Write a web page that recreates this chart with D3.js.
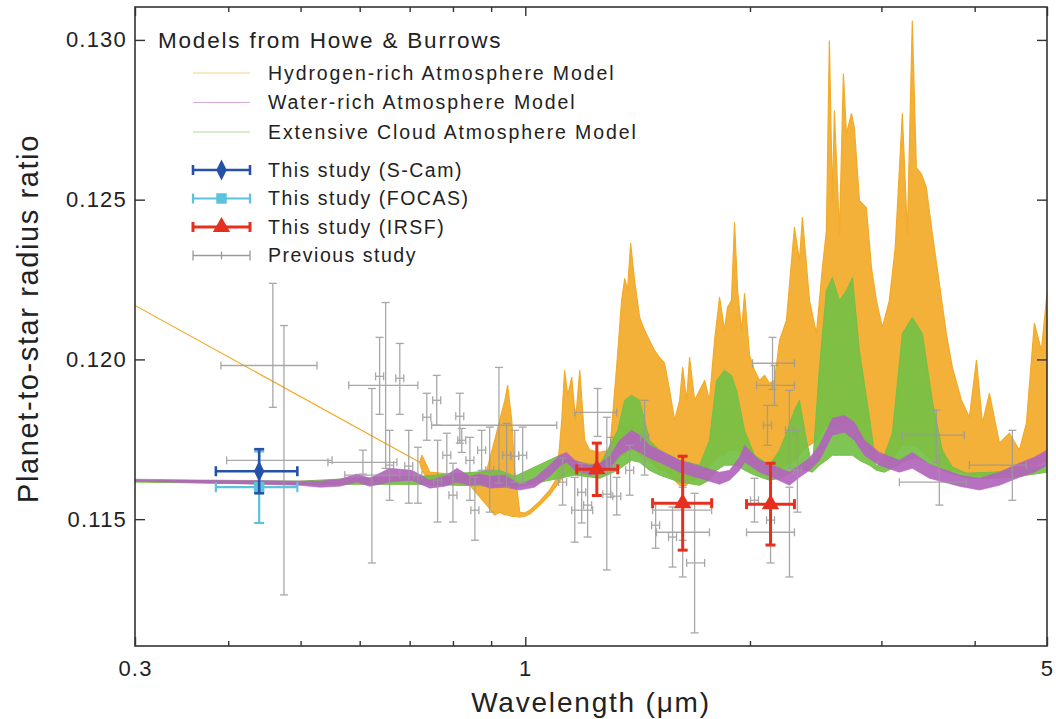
<!DOCTYPE html>
<html>
<head>
<meta charset="utf-8">
<script src="https://cdn.jsdelivr.net/npm/d3@7"></script>
<style>
  body { margin: 0; background: #fff; }
  text { font-family: "Liberation Sans", Arial, Helvetica, sans-serif; fill: #222; }
</style>
</head>
<body>
<div id="chart"></div>
<script>
// model spectra: [wavelength (um), lower edge, upper edge]
const hydrogenModel = [
  [0.300, 0.12169, 0.12169], [0.722, 0.11678, 0.11678], [0.727, 0.11653, 0.11700], [0.745, 0.11616, 0.11647],
  [0.792, 0.11609, 0.11641], [0.843, 0.11606, 0.11634], [0.888, 0.11544, 0.11653], [0.910, 0.11513, 0.11747],
  [0.924, 0.11522, 0.11809], [0.939, 0.11513, 0.11872], [0.947, 0.11513, 0.11919], [0.959, 0.11509, 0.11809],
  [0.968, 0.11509, 0.11653], [0.983, 0.11506, 0.11522], [0.998, 0.11509, 0.11519], [1.014, 0.11516, 0.11528],
  [1.046, 0.11544, 0.11556], [1.078, 0.11575, 0.11591], [1.102, 0.11606, 0.11628], [1.119, 0.11628, 0.11809],
  [1.129, 0.11638, 0.11966], [1.140, 0.11647, 0.11888], [1.154, 0.11647, 0.11944], [1.168, 0.11638, 0.11809],
  [1.183, 0.11647, 0.11966], [1.201, 0.11638, 0.11747], [1.220, 0.11653, 0.11716], [1.258, 0.11653, 0.11709],
  [1.298, 0.11669, 0.11716], [1.330, 0.11684, 0.12019], [1.346, 0.11700, 0.12184], [1.359, 0.11700, 0.12253],
  [1.371, 0.11716, 0.12216], [1.384, 0.11716, 0.12363], [1.401, 0.11716, 0.12247], [1.423, 0.11700, 0.12131],
  [1.445, 0.11684, 0.12091], [1.467, 0.11684, 0.12059], [1.490, 0.11669, 0.12028], [1.513, 0.11653, 0.12006],
  [1.537, 0.11653, 0.11988], [1.561, 0.11638, 0.11903], [1.585, 0.11622, 0.11809], [1.610, 0.11606, 0.11872],
  [1.625, 0.11606, 0.11975], [1.645, 0.11606, 0.11872], [1.660, 0.11622, 0.12006], [1.686, 0.11622, 0.11872],
  [1.712, 0.11638, 0.11903], [1.739, 0.11653, 0.11934], [1.765, 0.11669, 0.11872], [1.793, 0.11684, 0.12059],
  [1.821, 0.11700, 0.12194], [1.849, 0.11700, 0.12091], [1.866, 0.11716, 0.12163], [1.889, 0.11716, 0.12184],
  [1.907, 0.11716, 0.12428], [1.925, 0.11716, 0.12216], [1.949, 0.11700, 0.12091], [1.967, 0.11700, 0.12206],
  [1.997, 0.11684, 0.12013], [2.028, 0.11678, 0.11966], [2.060, 0.11669, 0.11934], [2.092, 0.11663, 0.11950],
  [2.124, 0.11653, 0.11925], [2.157, 0.11653, 0.11934], [2.191, 0.11659, 0.12059], [2.238, 0.11669, 0.12122],
  [2.294, 0.11684, 0.12413], [2.330, 0.11700, 0.12309], [2.351, 0.11716, 0.12444], [2.403, 0.11731, 0.12184],
  [2.455, 0.11747, 0.12081], [2.501, 0.11778, 0.12288], [2.532, 0.11794, 0.12403], [2.555, 0.11794, 0.12997],
  [2.579, 0.11794, 0.12497], [2.595, 0.11794, 0.12778], [2.636, 0.11794, 0.12394], [2.668, 0.11794, 0.12894],
  [2.693, 0.11794, 0.12706], [2.735, 0.11794, 0.12769], [2.760, 0.11778, 0.12725], [2.803, 0.11763, 0.12497],
  [2.864, 0.11731, 0.12475], [2.909, 0.11716, 0.12288], [2.954, 0.11684, 0.12184], [3.009, 0.11678, 0.12100],
  [3.074, 0.11684, 0.12184], [3.131, 0.11700, 0.12350], [3.200, 0.11731, 0.12769], [3.250, 0.11731, 0.12394],
  [3.300, 0.11731, 0.13059], [3.341, 0.11731, 0.12600], [3.393, 0.11716, 0.12581], [3.446, 0.11700, 0.12538],
  [3.510, 0.11684, 0.12394], [3.587, 0.11669, 0.12238], [3.665, 0.11653, 0.12081], [3.734, 0.11653, 0.11975],
  [3.840, 0.11647, 0.11872], [3.935, 0.11638, 0.11819], [4.022, 0.11638, 0.11997], [4.097, 0.11634, 0.11800],
  [4.186, 0.11634, 0.11894], [4.317, 0.11638, 0.11738], [4.452, 0.11647, 0.11769], [4.591, 0.11653, 0.11716],
  [4.692, 0.11659, 0.11800], [4.809, 0.11669, 0.12113], [4.914, 0.11675, 0.12028], [5.000, 0.11684, 0.12206]
];

const cloudModel = [
  [0.300, 0.11616, 0.11622], [0.499, 0.11609, 0.11619], [0.595, 0.11609, 0.11628], [0.722, 0.11609, 0.11634],
  [0.924, 0.11603, 0.11653], [0.968, 0.11600, 0.11634], [1.112, 0.11628, 0.11700], [1.165, 0.11638, 0.11678],
  [1.258, 0.11628, 0.11669], [1.330, 0.11653, 0.11778], [1.359, 0.11669, 0.11872], [1.388, 0.11684, 0.11888],
  [1.423, 0.11678, 0.11872], [1.467, 0.11653, 0.11747], [1.513, 0.11638, 0.11716], [1.610, 0.11616, 0.11684],
  [1.712, 0.11606, 0.11669], [1.765, 0.11622, 0.11747], [1.804, 0.11653, 0.11934], [1.849, 0.11669, 0.11966],
  [1.889, 0.11669, 0.11950], [1.919, 0.11669, 0.11903], [1.967, 0.11653, 0.11778], [2.028, 0.11638, 0.11700],
  [2.124, 0.11622, 0.11669], [2.191, 0.11628, 0.11716], [2.238, 0.11638, 0.11769], [2.294, 0.11653, 0.11841],
  [2.330, 0.11659, 0.11872], [2.381, 0.11653, 0.11747], [2.425, 0.11647, 0.11663], [2.478, 0.11669, 0.11975],
  [2.532, 0.11684, 0.12216], [2.579, 0.11700, 0.12256], [2.636, 0.11700, 0.12184], [2.693, 0.11700, 0.12216],
  [2.744, 0.11700, 0.12256], [2.803, 0.11684, 0.12028], [2.891, 0.11669, 0.11819], [2.954, 0.11653, 0.11663],
  [3.028, 0.11647, 0.11700], [3.103, 0.11659, 0.11769], [3.200, 0.11678, 0.12081], [3.300, 0.11691, 0.12131],
  [3.404, 0.11684, 0.12081], [3.510, 0.11669, 0.11872], [3.620, 0.11653, 0.11716], [3.734, 0.11641, 0.11663],
  [3.899, 0.11628, 0.11644], [4.225, 0.11628, 0.11647], [4.591, 0.11634, 0.11653], [5.000, 0.11647, 0.11669]
];

const waterModel = [
  [0.300, 0.11619, 0.11625], [0.499, 0.11606, 0.11619], [0.531, 0.11600, 0.11619], [0.564, 0.11603, 0.11625],
  [0.595, 0.11616, 0.11641], [0.619, 0.11603, 0.11628], [0.658, 0.11616, 0.11659], [0.705, 0.11622, 0.11653],
  [0.745, 0.11597, 0.11622], [0.780, 0.11603, 0.11634], [0.810, 0.11616, 0.11659], [0.843, 0.11606, 0.11634],
  [0.869, 0.11609, 0.11641], [0.896, 0.11597, 0.11634], [0.939, 0.11600, 0.11638], [0.983, 0.11591, 0.11609],
  [1.029, 0.11600, 0.11628], [1.078, 0.11634, 0.11669], [1.112, 0.11666, 0.11700], [1.136, 0.11678, 0.11709],
  [1.165, 0.11653, 0.11684], [1.220, 0.11638, 0.11669], [1.258, 0.11644, 0.11675], [1.298, 0.11659, 0.11697],
  [1.338, 0.11700, 0.11747], [1.388, 0.11722, 0.11778], [1.423, 0.11709, 0.11763], [1.467, 0.11691, 0.11731],
  [1.513, 0.11678, 0.11716], [1.610, 0.11647, 0.11684], [1.712, 0.11628, 0.11666], [1.821, 0.11609, 0.11647],
  [1.878, 0.11622, 0.11653], [1.937, 0.11653, 0.11694], [1.967, 0.11678, 0.11731], [1.997, 0.11669, 0.11716],
  [2.060, 0.11647, 0.11684], [2.157, 0.11628, 0.11666], [2.259, 0.11606, 0.11647], [2.330, 0.11631, 0.11669],
  [2.403, 0.11653, 0.11691], [2.478, 0.11684, 0.11731], [2.579, 0.11763, 0.11816], [2.677, 0.11772, 0.11825],
  [2.760, 0.11747, 0.11803], [2.847, 0.11700, 0.11747], [2.981, 0.11669, 0.11709], [3.171, 0.11647, 0.11684],
  [3.300, 0.11659, 0.11709], [3.478, 0.11628, 0.11672], [3.815, 0.11603, 0.11638], [4.059, 0.11591, 0.11628],
  [4.317, 0.11606, 0.11647], [4.591, 0.11631, 0.11675], [4.809, 0.11647, 0.11694], [5.000, 0.11669, 0.11716]
];

// observations: [wavelength, ratio, ratio error, band start, band end]
const sCamPoints = [[0.440, 0.11650, 0.00069, 0.385, 0.495]];
const focasPoints = [[0.440, 0.11600, 0.00112, 0.385, 0.495]];
const irsfPoints = [
  [1.247, 0.11656, 0.00082, 1.172, 1.330],
  [1.625, 0.11550, 0.00147, 1.481, 1.777],
  [2.131, 0.11547, 0.00128, 1.979, 2.294]
];

// previous study: [wavelength, ratio, ratio low, ratio high, band start, band end]
const previousPoints = [
  [0.459, 0.11981, 0.11850, 0.12238, 0.391, 0.526], [0.475, 0.11684, 0.11263, 0.12106, 0.398, 0.551],
  [0.623, 0.11638, 0.11363, 0.11909, 0.573, 0.679], [0.606, 0.11678, 0.11641, 0.11716, 0.544, 0.673],
  [0.638, 0.11947, 0.11828, 0.12069, null, null], [0.650, 0.11919, 0.11659, 0.12178, 0.580, 0.718],
  [0.679, 0.11941, 0.11828, 0.12050, null, null], [0.658, 0.11669, 0.11559, 0.11778, null, null],
  [0.698, 0.11666, 0.11550, 0.11778, null, null], [0.718, 0.11638, 0.11550, 0.11725, null, null],
  [0.738, 0.11819, 0.11747, 0.11894, null, null], [0.761, 0.11872, 0.11794, 0.11950, null, null],
  [0.763, 0.11622, 0.11491, 0.11747, null, null], [0.785, 0.11700, 0.11638, 0.11769, null, null],
  [0.800, 0.11575, 0.11491, 0.11675, null, null], [0.817, 0.11822, 0.11738, 0.11894, null, null],
  [0.822, 0.11747, 0.11709, 0.11784, null, null], [0.843, 0.11684, 0.11559, 0.11756, null, null],
  [0.856, 0.11528, 0.11434, 0.11631, null, null], [0.874, 0.11716, 0.11653, 0.11778, null, null],
  [0.896, 0.11653, 0.11522, 0.11788, null, null], [0.922, 0.11794, 0.11613, 0.11975, 0.749, 1.102],
  [0.944, 0.11700, 0.11600, 0.11800, null, null], [0.968, 0.11697, 0.11616, 0.11778, null, null],
  [0.992, 0.11700, 0.11613, 0.11788, null, null], [1.122, 0.11616, 0.11544, 0.11691, null, null],
  [1.165, 0.11528, 0.11428, 0.11631, 1.154, 1.231], [1.190, 0.11584, 0.11488, 0.11675, null, null],
  [1.212, 0.11544, 0.11444, 0.11644, null, null], [1.250, 0.11834, 0.11759, 0.11909, 1.165, 1.326],
  [1.286, 0.11578, 0.11341, 0.11819, null, null], [1.301, 0.11663, 0.11569, 0.11756, null, null],
  [1.326, 0.11572, 0.11513, 0.11631, null, null], [1.380, 0.11653, 0.11575, 0.11731, null, null],
  [1.445, 0.11756, 0.11638, 0.11872, null, null], [1.495, 0.11481, 0.11409, 0.11550, null, null],
  [1.625, 0.11459, 0.11319, 0.11600, 1.499, 1.765], [1.575, 0.11444, 0.11350, 0.11538, null, null],
  [1.686, 0.11363, 0.11144, 0.11581, 1.645, 1.739], [1.625, 0.11528, 0.11434, 0.11622, 1.481, 1.777],
  [2.028, 0.11559, 0.11491, 0.11628, null, null], [2.131, 0.11497, 0.11363, 0.11628, null, null],
  [2.259, 0.11459, 0.11319, 0.11600, 1.979, 2.294], [2.315, 0.11653, 0.11522, 0.11778, null, null],
  [2.144, 0.11988, 0.11906, 0.12069, 2.016, 2.294], [2.157, 0.11919, 0.11856, 0.11981, 2.041, 2.294],
  [2.111, 0.11794, 0.11731, 0.11856, null, null], [2.259, 0.11778, 0.11659, 0.11903, null, null],
  [3.554, 0.11763, 0.11678, 0.11841, 3.200, 3.874], [4.493, 0.11669, 0.11559, 0.11778, 3.935, 4.692],
  [3.587, 0.11616, 0.11544, 0.11700, 3.171, 3.899]
];

const yTicks = [0.115, 0.120, 0.125, 0.130];
const xMajorTicks = [0.3, 1, 5];
const xMinorTicks = [0.4, 0.5, 0.6, 0.7, 0.8, 0.9, 2, 3, 4];
const legendTitle = "Models from Howe & Burrows";
const modelLabels = ["Hydrogen-rich Atmosphere Model", "Water-rich Atmosphere Model", "Extensive Cloud Atmosphere Model"];
const pointLabels = ["This study (S-Cam)", "This study (FOCAS)", "This study (IRSF)", "Previous study"];

const colH = "#f2aa28", colW = "#b264bc", colC = "#74c045";
const colScam = "#2552a8", colFocas = "#5fc2dc", colIrsf = "#e5301f", colPrev = "#9a9a9a";

const margin = {top: 7, right: 9, bottom: 73, left: 135},
  width = 1056 - margin.left - margin.right,
  height = 719 - margin.top - margin.bottom;

const x = d3.scaleLog().domain([0.3, 5]).range([0, width]);
const y = d3.scaleLinear().domain([0.11103, 0.13103]).range([height, 0]);

const svg = d3.select("#chart").append("svg")
  .attr("width", 1056)
  .attr("height", 719)
  .append("g")
  .attr("transform", "translate(" + margin.left + "," + margin.top + ")");

svg.append("clipPath").attr("id", "plotclip")
  .append("rect").attr("width", width).attr("height", height);

const plot = svg.append("g").attr("clip-path", "url(#plotclip)");

// model spectra as filled envelopes
const band = d3.area()
  .x(d => x(d[0]))
  .y0(d => y(d[1]))
  .y1(d => y(d[2]));

[[hydrogenModel, colH, 1.2], [cloudModel, colC, 1], [waterModel, colW, 0.6]].forEach(function (m) {
  plot.append("path")
    .datum(m[0])
    .attr("d", band)
    .attr("fill", m[1])
    .attr("fill-opacity", 0.92)
    .attr("stroke", m[1])
    .attr("stroke-width", m[2])
    .attr("stroke-linejoin", "round");
});

// previous study error bars
const prev = plot.append("g")
  .attr("stroke", colPrev)
  .attr("stroke-width", 1.3)
  .attr("opacity", 0.85);

previousPoints.forEach(function (p) {
  const cx = x(p[0]), cy = y(p[1]);
  const y0 = y(p[2]), y1 = y(p[3]);
  prev.append("line").attr("x1", cx).attr("x2", cx).attr("y1", y0).attr("y2", y1);
  prev.append("line").attr("x1", cx - 4).attr("x2", cx + 4).attr("y1", y0).attr("y2", y0);
  prev.append("line").attr("x1", cx - 4).attr("x2", cx + 4).attr("y1", y1).attr("y2", y1);
  const xa = p[4] ? x(p[4]) : cx - 4, xb = p[5] ? x(p[5]) : cx + 4;
  prev.append("line").attr("x1", xa).attr("x2", xb).attr("y1", cy).attr("y2", cy);
  prev.append("line").attr("x1", xa).attr("x2", xa).attr("y1", cy - 4).attr("y2", cy + 4);
  prev.append("line").attr("x1", xb).attr("x2", xb).attr("y1", cy - 4).attr("y2", cy + 4);
});

// this study points with error bars
function drawStudy(points, color, symbol, size, lw, cap) {
  const g = plot.append("g").attr("stroke", color).attr("stroke-width", lw);
  points.forEach(function (p) {
    const cx = x(p[0]), cy = y(p[1]);
    const y0 = y(p[1] - p[2]), y1 = y(p[1] + p[2]);
    const xa = x(p[3]), xb = x(p[4]);
    g.append("line").attr("x1", cx).attr("x2", cx).attr("y1", y0).attr("y2", y1);
    g.append("line").attr("x1", xa).attr("x2", xb).attr("y1", cy).attr("y2", cy);
    g.append("line").attr("x1", cx - cap).attr("x2", cx + cap).attr("y1", y0).attr("y2", y0);
    g.append("line").attr("x1", cx - cap).attr("x2", cx + cap).attr("y1", y1).attr("y2", y1);
    g.append("line").attr("x1", xa).attr("x2", xa).attr("y1", cy - cap).attr("y2", cy + cap);
    g.append("line").attr("x1", xb).attr("x2", xb).attr("y1", cy - cap).attr("y2", cy + cap);
    g.append("path")
      .attr("d", d3.symbol().type(symbol).size(size)())
      .attr("transform", "translate(" + cx + "," + cy + ")" + (symbol === d3.symbolDiamond ? " scale(1,1.15)" : ""))
      .attr("fill", color).attr("stroke", "none");
  });
}
drawStudy(focasPoints, colFocas, d3.symbolSquare, 110, 2.2, 5);
drawStudy(sCamPoints, colScam, d3.symbolDiamond, 95, 2.6, 5);
drawStudy(irsfPoints, colIrsf, d3.symbolTriangle, 130, 3, 5);

// frame
svg.append("rect")
  .attr("width", width).attr("height", height)
  .attr("fill", "none").attr("stroke", "#333").attr("stroke-width", 1.6);

// axes with inward ticks
function styleAxis(g) {
  g.select(".domain").remove();
  g.selectAll(".tick line").attr("stroke", "#333").attr("stroke-width", 1.4);
  g.selectAll(".tick text").attr("fill", "#222").attr("font-size", 22)
    .attr("font-family", "Liberation Sans, Arial, sans-serif")
    .style("letter-spacing", "1.2px");
}

svg.append("g")
  .attr("transform", "translate(0," + height + ")")
  .call(d3.axisBottom(x).tickValues(xMajorTicks).tickSize(-9).tickPadding(14)
    .tickFormat(d3.format("~g")))
  .call(styleAxis);
svg.append("g")
  .attr("transform", "translate(0," + height + ")")
  .call(d3.axisBottom(x).tickValues(xMinorTicks).tickSize(-5).tickFormat(""))
  .call(styleAxis);
svg.append("g")
  .call(d3.axisTop(x).tickValues(xMajorTicks).tickSize(-9).tickFormat(""))
  .call(styleAxis);
svg.append("g")
  .call(d3.axisTop(x).tickValues(xMinorTicks).tickSize(-5).tickFormat(""))
  .call(styleAxis);
svg.append("g")
  .call(d3.axisLeft(y).tickValues(yTicks).tickSize(-10).tickPadding(8)
    .tickFormat(d3.format(".3f")))
  .call(styleAxis);
svg.append("g")
  .attr("transform", "translate(" + width + ",0)")
  .call(d3.axisRight(y).tickValues(yTicks).tickSize(-10).tickFormat(""))
  .call(styleAxis);

// axis titles
svg.append("text")
  .attr("x", width / 2)
  .attr("y", height + 66)
  .attr("text-anchor", "middle")
  .attr("font-size", 28)
  .style("letter-spacing", "1.8px")
  .text("Wavelength (\u03bcm)");

svg.append("text")
  .attr("transform", "rotate(-90)")
  .attr("x", -(height / 2 - 8))
  .attr("y", -97)
  .attr("text-anchor", "middle")
  .attr("font-size", 29)
  .style("letter-spacing", "1.6px")
  .text("Planet-to-star radius ratio");

// legend
const legend = svg.append("g").attr("transform", "translate(" + (158 - margin.left) + "," + (40 - margin.top) + ")");
legend.append("text")
  .attr("x", 0).attr("y", 0).attr("dy", "0.35em")
  .attr("font-size", 22.5)
  .style("letter-spacing", "1.8px")
  .text(legendTitle);

const sampleX0 = 35, sampleX1 = 92, labelX = 110;
[colH, colW, colC].forEach(function (c, i) {
  const ly = 33 + i * 29.5;
  legend.append("line")
    .attr("x1", sampleX0).attr("x2", sampleX1).attr("y1", ly).attr("y2", ly)
    .attr("stroke", c).attr("stroke-width", 1).attr("opacity", 0.55);
  legend.append("text")
    .attr("x", labelX).attr("y", ly).attr("dy", "0.35em")
    .attr("font-size", 19.5)
    .style("letter-spacing", "1.9px")
    .text(modelLabels[i]);
});

const pointStyles = [
  [colScam, d3.symbolDiamond, 95, 2.6],
  [colFocas, d3.symbolSquare, 110, 2.2],
  [colIrsf, d3.symbolTriangle, 130, 3],
  [colPrev, null, 0, 1.3]
];
pointStyles.forEach(function (s, i) {
  const ly = 130 + i * 28.5;
  const mid = (sampleX0 + sampleX1) / 2;
  const g = legend.append("g").attr("stroke", s[0]).attr("stroke-width", s[3]);
  g.append("line").attr("x1", sampleX0).attr("x2", sampleX1).attr("y1", ly).attr("y2", ly);
  g.append("line").attr("x1", sampleX0).attr("x2", sampleX0).attr("y1", ly - 5).attr("y2", ly + 5);
  g.append("line").attr("x1", sampleX1).attr("x2", sampleX1).attr("y1", ly - 5).attr("y2", ly + 5);
  if (s[1]) {
    g.append("path")
      .attr("d", d3.symbol().type(s[1]).size(s[2])())
      .attr("transform", "translate(" + mid + "," + ly + ")" + (s[1] === d3.symbolDiamond ? " scale(1,1.15)" : ""))
      .attr("fill", s[0]).attr("stroke", "none");
  } else {
    g.append("line").attr("x1", mid).attr("x2", mid).attr("y1", ly - 4).attr("y2", ly + 4);
  }
  legend.append("text")
    .attr("x", labelX).attr("y", ly).attr("dy", "0.35em")
    .attr("font-size", 19.5)
    .style("letter-spacing", "1.5px")
    .text(pointLabels[i]);
});
</script>
</body>
</html>
